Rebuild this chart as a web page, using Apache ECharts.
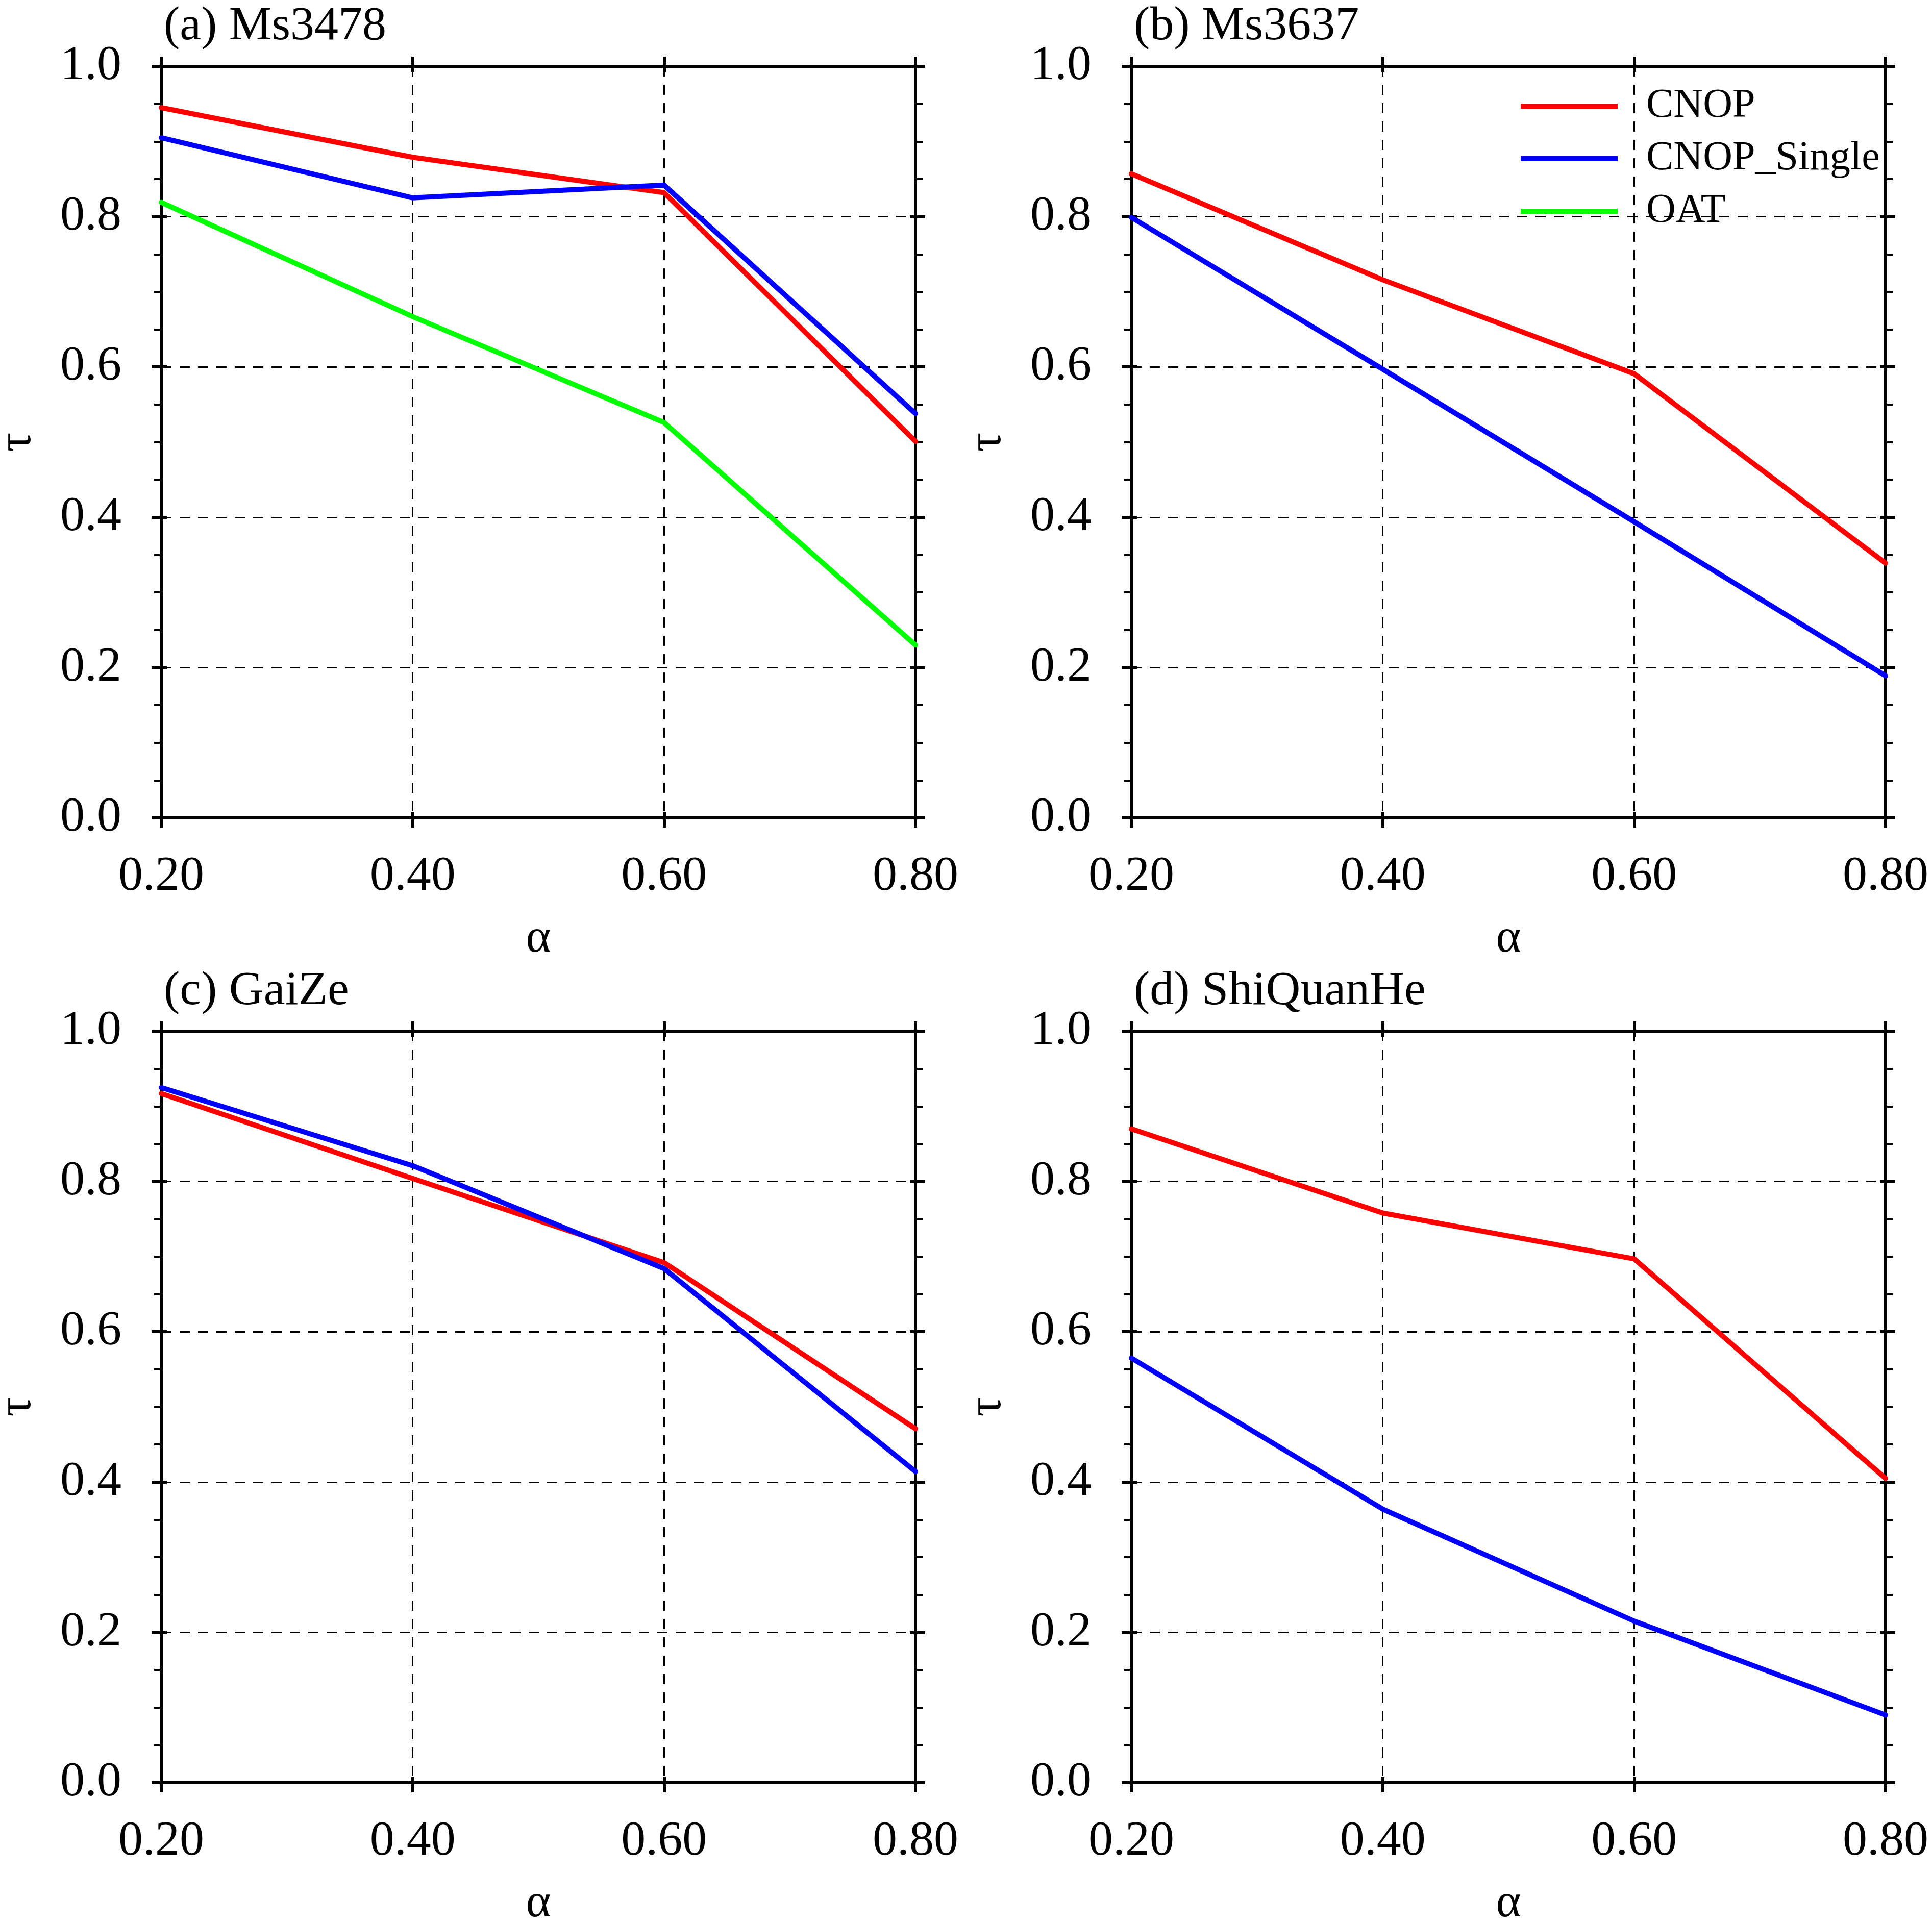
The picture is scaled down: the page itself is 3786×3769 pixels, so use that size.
<!DOCTYPE html>
<html>
<head>
<meta charset="utf-8">
<script src="https://cdn.jsdelivr.net/npm/echarts@6/dist/echarts.min.js"></script>
<style>
  html, body { margin: 0; padding: 0; background: #fff; }
  #main { width: 3786px; height: 3769px; }
</style>
</head>
<body>
<div id="main"></div>
<script>
var myChart = echarts.init(document.getElementById('main'));

// values
var alphas = [0.2, 0.4, 0.6, 0.8];
var panelTitles = ['(a) Ms3478', '(b) Ms3637', '(c) GaiZe', '(d) ShiQuanHe'];
var cnopA = [0.945, 0.879, 0.832, 0.501];
var singleA = [0.905, 0.825, 0.842, 0.538];
var oatA = [0.819, 0.667, 0.526, 0.230];
var cnopB = [0.857, 0.716, 0.591, 0.339];
var singleB = [0.799, 0.597, 0.394, 0.189];
var cnopC = [0.917, 0.804, 0.692, 0.471];
var singleC = [0.925, 0.821, 0.684, 0.414];
var cnopD = [0.870, 0.758, 0.697, 0.405];
var singleD = [0.565, 0.364, 0.215, 0.090];

var FONT = "'Liberation Serif', 'Times New Roman', serif";
var colors = { CNOP: '#FF0000', CNOP_Single: '#0000FF', OAT: '#00FF00' };

var panels = [
    { left: 316, top: 130, lines: { CNOP: cnopA, CNOP_Single: singleA, OAT: oatA } },
    { left: 2217, top: 130, lines: { CNOP: cnopB, CNOP_Single: singleB } },
    { left: 316, top: 2021, lines: { CNOP: cnopC, CNOP_Single: singleC } },
    { left: 2217, top: 2021, lines: { CNOP: cnopD, CNOP_Single: singleD } }
];

function pairs(xs, ys) {
    return xs.map(function (x, i) { return [x, ys[i]]; });
}

var grids = [], xAxes = [], yAxes = [], series = [], titles = [];
var dashed = { show: true, lineStyle: { color: '#000', width: 3, type: [20, 16] } };

panels.forEach(function (p, g) {
    grids.push({ left: p.left, top: p.top, width: 1478, height: 1473, outerBoundsMode: 'none' });
    titles.push({
        text: panelTitles[g], left: p.left, top: p.top - 130,
        textStyle: { fontFamily: FONT, fontSize: 94, fontWeight: 'normal', color: '#000' }
    });

    // x axes: bottom outer (labels), bottom inner, top outer, top inner
    [['bottom', false], ['bottom', true], ['top', false], ['top', true]].forEach(function (s, k) {
        xAxes.push({
            gridIndex: g, type: 'value', position: s[0],
            min: 0.2, max: 0.8, interval: 0.2,
            name: k === 0 ? 'α' : '', nameLocation: 'middle', nameGap: 190,
            nameTextStyle: { fontFamily: FONT, fontSize: 94, color: '#000' },
            axisLine: { show: !s[1], onZero: false, lineStyle: { color: '#000', width: 6 } },
            axisTick: { show: true, inside: s[1], length: s[1] ? 11 : 19, lineStyle: { color: '#000', width: 6 } },
            axisLabel: {
                show: k === 0, margin: 68, fontFamily: FONT, fontSize: 96, color: '#000',
                formatter: function (v) { return v.toFixed(2); }
            },
            splitLine: k === 0 ? dashed : { show: false }
        });
    });

    // y axes: left outer (labels), left inner, right outer, right inner
    [['left', false], ['left', true], ['right', false], ['right', true]].forEach(function (s, k) {
        yAxes.push({
            gridIndex: g, type: 'value', position: s[0],
            min: 0, max: 1, interval: 0.2,
            name: k === 0 ? 'τ' : '', nameLocation: 'middle', nameGap: 235,
            nameTextStyle: { fontFamily: FONT, fontSize: 94, color: '#000' },
            axisLine: { show: !s[1], onZero: false, lineStyle: { color: '#000', width: 6 } },
            axisTick: { show: true, inside: s[1], length: s[1] ? 11 : 19, lineStyle: { color: '#000', width: 6 } },
            minorTick: { show: !s[1], splitNumber: 4, length: 14, lineStyle: { color: '#000', width: 4 } },
            axisLabel: {
                show: k === 0, margin: 78, fontFamily: FONT, fontSize: 96, color: '#000',
                formatter: function (v) { return v.toFixed(1); }
            },
            splitLine: k === 0 ? dashed : { show: false }
        });
    });

    Object.keys(p.lines).forEach(function (name) {
        series.push({
            name: name, type: 'line',
            xAxisIndex: g * 4, yAxisIndex: g * 4,
            showSymbol: false, symbol: 'none',
            lineStyle: { color: colors[name], width: 10, cap: 'round', join: 'round' },
            itemStyle: { color: colors[name] },
            z: 5,
            data: pairs(alphas, p.lines[name])
        });
    });
});

var option = {
    backgroundColor: '#fff',
    animation: false,
    title: titles,
    legend: {
        orient: 'vertical',
        left: 2975, top: 163,
        itemWidth: 190, itemHeight: 10, itemGap: 23,
        icon: 'rect',
        textStyle: { fontFamily: FONT, fontSize: 80, color: '#000', padding: [0, 0, 0, 51] },
        data: ['CNOP', 'CNOP_Single', 'OAT']
    },
    grid: grids,
    xAxis: xAxes,
    yAxis: yAxes,
    series: series
};
myChart.setOption(option);
</script>
</body>
</html>
